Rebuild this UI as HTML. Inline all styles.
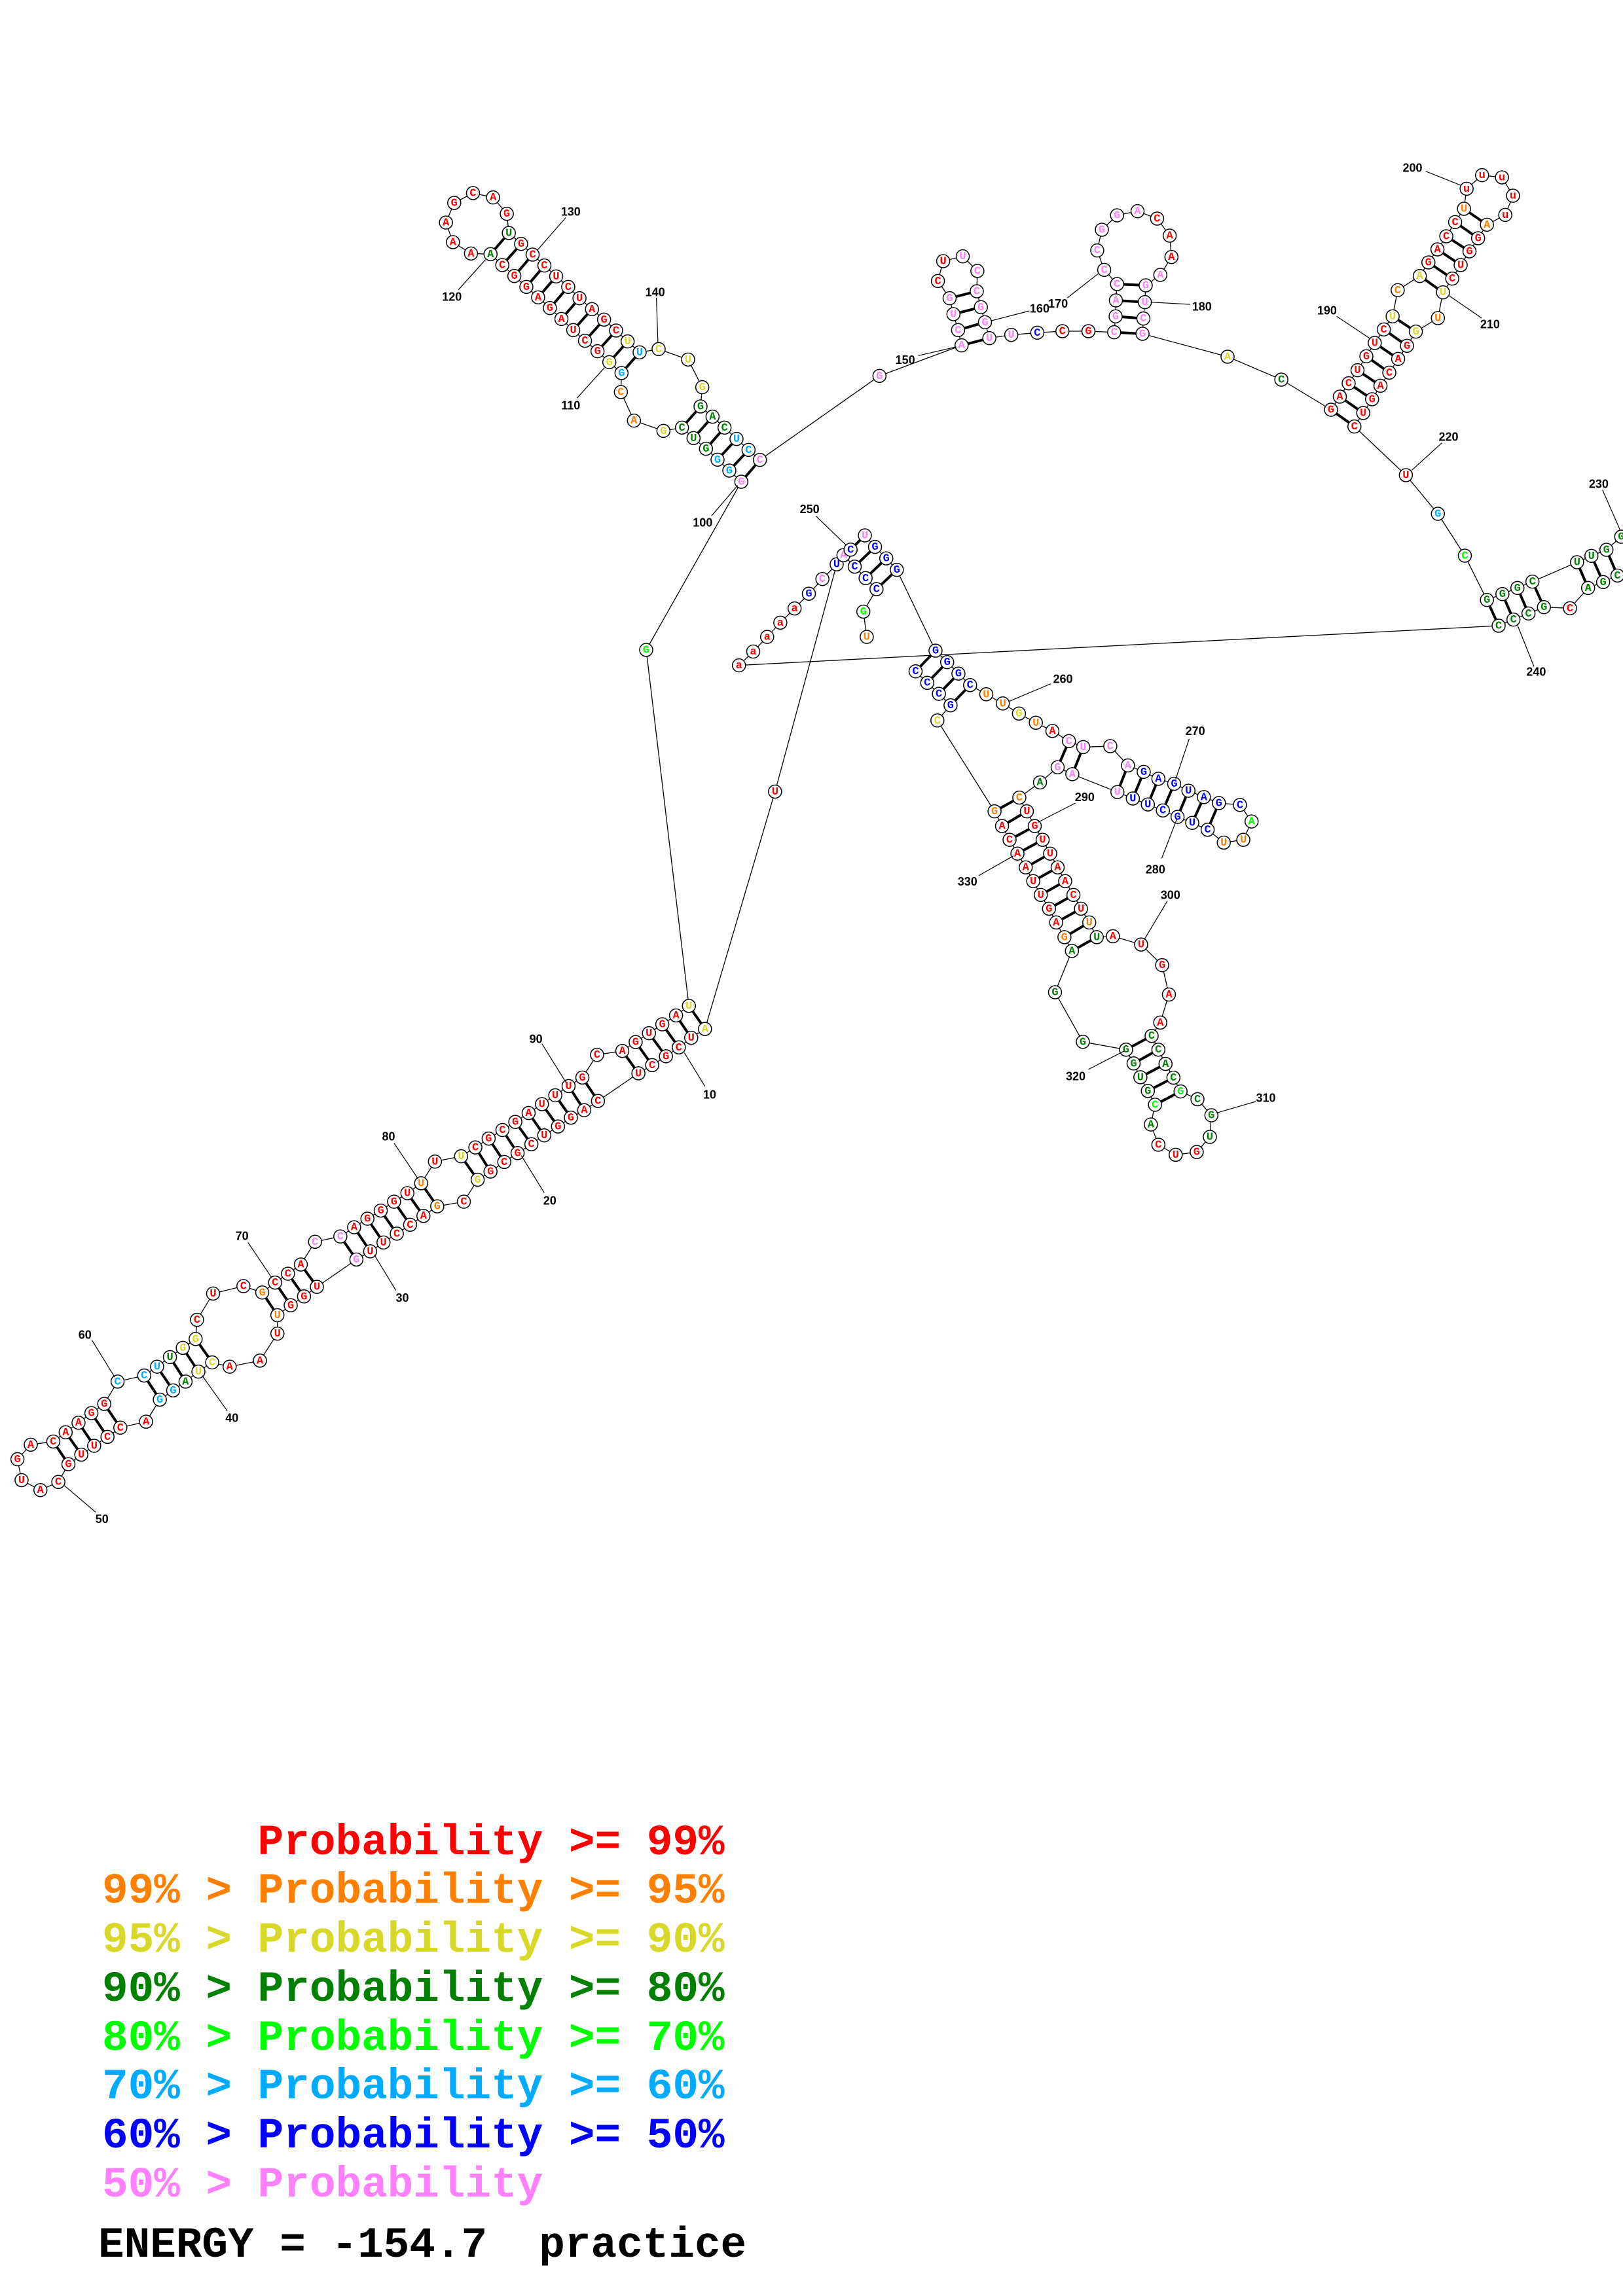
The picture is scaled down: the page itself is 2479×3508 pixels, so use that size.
<!DOCTYPE html>
<html><head><meta charset="utf-8"><style>
html,body{margin:0;padding:0;background:#fff;}
svg{display:block;}
.nt{font-family:"Liberation Mono",monospace;font-weight:bold;font-size:17px;text-anchor:middle;dominant-baseline:central;}
.lb{font-family:"Liberation Sans",sans-serif;font-weight:bold;font-size:18px;text-anchor:middle;dominant-baseline:central;fill:#000;}
.lg{font-family:"Liberation Mono",monospace;font-weight:bold;font-size:66px;white-space:pre;}
</style></head><body>
<svg id="s" xmlns="http://www.w3.org/2000/svg" width="2479" height="3508" viewBox="0 0 2479 3508">
<g id="bb"></g><g id="pr"></g><g id="nd"></g><g id="lbl"></g>
<text class="lg" x="156" y="2833" fill="#ff0000" xml:space="preserve">      Probability &gt;= 99%</text>
<text class="lg" x="156" y="2907" fill="#ff8000" xml:space="preserve">99% &gt; Probability &gt;= 95%</text>
<text class="lg" x="156" y="2982" fill="#d8d82a" xml:space="preserve">95% &gt; Probability &gt;= 90%</text>
<text class="lg" x="156" y="3057" fill="#008000" xml:space="preserve">90% &gt; Probability &gt;= 80%</text>
<text class="lg" x="156" y="3132" fill="#00ff00" xml:space="preserve">80% &gt; Probability &gt;= 70%</text>
<text class="lg" x="156" y="3206" fill="#00aaff" xml:space="preserve">70% &gt; Probability &gt;= 60%</text>
<text class="lg" x="156" y="3281" fill="#0000ff" xml:space="preserve">60% &gt; Probability &gt;= 50%</text>
<text class="lg" x="156" y="3356" fill="#ff80ff" xml:space="preserve">50% &gt; Probability</text>
<text class="lg" x="150" y="3448" fill="#000" xml:space="preserve">ENERGY = -154.7  practice</text>
</svg>
<script>
var Z={0:[0,0,1,1],1:[600,250,2.613,3],3:[0,1500,1.4255,1.845],4:[1100,750,1.742,1.4255],5:[1300,280,2.24,3],6:[1950,200,2.964,3],7:[1950,650,2.964,3],8:[900,500,3,3]};
function P(z,x,y){var q=Z[z];return [q[0]+x/q[2],q[1]+y/q[3]];}
var C={r:'#ff0000',o:'#ff8000',y:'#d8d82a',g:'#008000',l:'#00ff00',c:'#00aaff',b:'#0000ff',p:'#ff80ff'};
var S=[
[4,"U390,318o G381,263l C416,214b C387,190b C358,165b"],
['B'],
[4,"U146,655r"],
[3,"A1535,133y U1505,158r C1478,185r G1450,210r C1420,235r U1390,258r C1302,336r A1272,362r G1243,383r G1215,408r U1185,433r C1157,458r G1127,483r C1098,508r G1068,535r G1040,558y C1010,620r G952,633o A922,660r C893,685r C864,710r U835,735r U806,760r G776,783p U690,860r G662,887r G633,912r U604,940o U604,992r A566,1068r A500,1085r C462,1073y U432,1099y A404,1127g G377,1152c G348,1178c A318,1240r C262,1257r C234,1283r U205,1308r U177,1333r G149,1360r C127,1410r A88,1433r U47,1405r G38,1346r A67,1305r C116,1296r A143,1270r A171,1243r G199,1216r G227,1190r C256,1127c C314,1110c U342,1085c U370,1058g G398,1032y G426,1007y C429,953r U464,879r C530,858r G571,876o C599,848r C627,823r A655,797r C686,733p C741,718p A771,692r G800,668r G829,645r G858,620r U887,596r U917,568o U947,507r U1004,492y C1035,467r G1064,442r C1094,418r G1122,395r A1151,370r U1180,345r U1209,320r U1238,294r G1268,270r C1300,206r A1355,195r G1384,170r U1413,145r G1442,120r A1472,95r U1500,68y"],
[0,"G987,993l"],
[8,"G697,708p G642,657c G588,607c G535,557g U478,508g C425,460g G340,475y A205,428o C145,297o G148,210c G92,160y G38,110r"],
[1,"C767,812r U720,763r A673,712r G627,662r A580,613r G533,565r G485,515r C437,465r A390,415g A312,412r A240,360r A212,270r G245,180r C320,135r A400,155r G455,230r U463,318g G512,368r C558,417r C605,467r U652,517r C700,565r U745,617r A795,667r G843,715r"],
[8,"C123,15r U176,65y U231,115c C318,100y U453,148y G518,275y G510,363g A565,410g C620,460g U675,512c C730,562c C782,608p"],
[5,"G97,883p A378,743p C366,673p U350,600p G337,527p C297,448r U315,357r U382,335p C432,402p C430,495p G444,568p G458,637p U473,710p U548,695p C637,685b C723,678r G812,678r C900,683p G905,610p A906,537p C910,462p C866,397p C842,308p G858,213p G910,147p A980,128p C1047,162r A1090,240r A1096,338r A1058,420p G1008,468p U1005,545p C1000,620p G997,690p A1288,795y C1472,900g"],
[6,"G246,1278r A286,1218r C326,1157r U366,1097r G406,1033r U444,972r C485,910r U525,850y C548,730o A648,665y G687,603r A728,543r C768,483r C808,418r U848,357o u860,265r u930,203r u1020,213r u1070,297r u1035,385r A952,430o G912,492r G873,552r U833,615r C795,677r U753,740y U730,858o G630,920y G590,985r A550,1045r C510,1108r A470,1168r G432,1230r U392,1293r C352,1355r"],
[7,"U585,228r G730,405c C852,597l G952,800g G1022,773g G1090,745g C1158,716g U1360,627g U1425,598g G1493,570g G1560,510g"],
[0,"G2505,790g C2510,850g"],
[7,"C1543,688g G1478,718g A1410,745g C1328,838r G1210,833g C1140,862g C1072,890g C1005,918g"],
[4,"a50,380r a88,350r a125,318r a160,287r a198,256r G236,224b C272,192p U310,160b A328,140p C347,128b U385,97p G412,122b G442,147b G470,172b G573,348b G604,373b G634,398b C665,423b U708,443o U752,463o G795,485y U840,505o A884,523r C928,545p U966,558p C1038,556p A1085,598p G1127,612b A1166,627b G1208,638b U1246,653b A1287,667b G1327,680b C1383,684b A1414,720l U1392,760o U1340,766o C1297,738b U1256,723b G1217,710b C1178,696b U1138,683b U1098,670b U1057,656p A937,617p G898,602p A851,635g C796,668o U816,698r G837,730r U858,760r U878,790r A898,820r A918,850r C940,880r U960,910r U982,940o U1002,972g A1045,970r U1120,988r G1176,1033r A1194,1097r A1171,1158r C1148,1187g C1166,1217g A1185,1248g C1206,1278g G1225,1308l C1270,1325g G1307,1360g U1303,1407g G1268,1440r U1212,1446r C1166,1424r A1146,1380g C1157,1337l G1138,1307g U1118,1277g G1100,1247g G1080,1217g G965,1200g G891,1092g A936,1002g G916,972o A894,940r G875,910r U853,880r U833,850r A813,820r A791,790r C770,760r A750,730r G730,698o C578,500y G613,467b C582,442b C551,418b C520,393b"]
];
var PR=[
[3,"1500,68,1535,133 1472,95,1505,158 1442,120,1478,185 1413,145,1450,210 1384,170,1420,235 1355,195,1390,258 1268,270,1302,336 1238,294,1272,362 1209,320,1243,383 1180,345,1215,408 1151,370,1185,433 1122,395,1157,458 1094,418,1127,483 1064,442,1098,508 1035,467,1068,535 1004,492,1040,558 917,568,952,633 887,596,922,660 858,620,893,685 829,645,864,710 800,668,835,735 771,692,806,760 741,718,776,783 655,797,690,860 627,823,662,887 599,848,633,912 571,876,604,940 426,1007,462,1073 398,1032,432,1099 370,1058,404,1127 342,1085,377,1152 314,1110,348,1178 227,1190,262,1257 199,1216,234,1283 171,1243,205,1308 143,1270,177,1333 116,1296,149,1360"],
[1,"390,415,463,318 437,465,512,368 485,515,558,417 533,565,605,467 580,613,652,517 627,662,700,565 673,712,745,617 720,763,795,667 767,812,843,715"],
[8,"38,110,123,15 92,160,176,65 148,210,231,115 510,363,425,460 565,410,478,508 620,460,535,557 675,512,588,607 730,562,642,657 782,608,697,708"],
[5,"378,743,473,710 366,673,458,637 350,600,444,568 337,527,430,495 900,683,997,690 905,610,1000,620 906,537,1005,545 910,462,1008,468"],
[6,"246,1278,352,1355 286,1218,392,1293 326,1157,432,1230 366,1097,470,1168 406,1033,510,1108 444,972,550,1045 485,910,590,985 525,850,630,920 648,665,753,740 687,603,795,677 728,543,833,615 768,483,873,552 808,418,912,492 848,357,952,430"],
[7,"952,800,1005,918 1022,773,1072,890 1090,745,1140,862 1158,716,1210,833 1360,627,1410,745 1425,598,1478,718 1493,570,1543,688"],
[4,"347,128,385,97 358,165,412,122 387,190,442,147 416,214,470,172 520,393,573,348 551,418,604,373 582,442,634,398 613,467,665,423 928,545,898,602 966,558,937,617 1085,598,1057,656 1127,612,1098,670 1166,627,1138,683 1208,638,1178,696 1246,653,1217,710 1287,667,1256,723 1327,680,1297,738 796,668,730,698 816,698,750,730 837,730,770,760 858,760,791,790 878,790,813,820 898,820,833,850 918,850,853,880 940,880,875,910 960,910,894,940 982,940,916,972 1002,972,936,1002 1148,1187,1080,1217 1166,1217,1100,1247 1185,1248,1118,1277 1206,1278,1138,1307 1225,1308,1157,1337"]
];
var EX=[[4,310,160,146,655],[4,358,165,328,140]];
var LB=[
[3,"10",1545,318,1490,200,1535,295],[3,"20",1197,617,1135,490,1185,595],[3,"30",876,891,815,770,862,870],[3,"40",505,1230,440,1110,495,1210],[3,"50",222,1515,140,1420,208,1495],[3,"60",185,995,200,1010,250,1115],[3,"70",527,717,540,735,592,835],[3,"80",846,436,858,455,910,555],[3,"90",1167,161,1180,175,1232,283],
[8,"100",520,895,680,725,560,865],
[1,"110",710,1108,735,1075,845,935],[1,"120",236,610,262,578,370,440],[1,"130",710,220,690,248,578,395],[1,"140",1047,590,1052,615,1058,820],
[5,"150",185,810,230,790,360,750],[5,"160",645,575,610,585,480,630],[5,"170",708,552,740,525,845,415],[5,"180",1200,565,1160,555,1025,545],
[6,"190",228,823,272,850,420,950],[6,"200",615,170,675,185,835,250],[6,"210",966,887,928,858,780,755],
[7,"220",778,52,748,80,612,205],[7,"230",1458,268,1475,295,1555,480],[7,"240",1175,1130,1165,1105,1090,915],
[4,"250",238,40,255,55,335,118],[4,"260",912,410,880,420,770,458],[4,"270",1264,523,1248,540,1212,628],[4,"280",1158,825,1175,800,1215,715],[4,"290",970,667,945,680,845,722],[4,"300",1198,880,1190,893,1130,975],[4,"310",1452,1322,1425,1330,1320,1355],[4,"320",946,1275,980,1260,1075,1220],[4,"330",658,851,688,838,780,795]
];
var NS="http://www.w3.org/2000/svg";
function el(t,a,p,txt){var e=document.createElementNS(NS,t);for(var k in a)e.setAttribute(k,a[k]);if(txt)e.textContent=txt;document.getElementById(p).appendChild(e);return e;}
var nodes=[],brk=false,prev=null;
S.forEach(function(g){
 if(g[0]==='B'){brk=true;return;}
 g[1].split(' ').forEach(function(t){
  var m=t.match(/^([A-Za-z])(-?[\d.]+),(-?[\d.]+)([a-z])$/);
  var p=P(g[0],+m[2],+m[3]);
  if(prev&&!brk)el('line',{x1:prev[0],y1:prev[1],x2:p[0],y2:p[1],stroke:'#000','stroke-width':1.3},'bb');
  brk=false;prev=p;nodes.push([p,m[1],C[m[4]]]);
 });
});
EX.forEach(function(e){var a=P(e[0],e[1],e[2]),b=P(e[0],e[3],e[4]);el('line',{x1:a[0],y1:a[1],x2:b[0],y2:b[1],stroke:'#000','stroke-width':1.3},'bb');});
PR.forEach(function(g){g[1].split(' ').forEach(function(t){var v=t.split(',').map(Number);var a=P(g[0],v[0],v[1]),b=P(g[0],v[2],v[3]);el('line',{x1:a[0],y1:a[1],x2:b[0],y2:b[1],stroke:'#000','stroke-width':4},'pr');});});
nodes.forEach(function(n){el('circle',{cx:n[0][0],cy:n[0][1],r:10,fill:'#fff',stroke:'#000','stroke-width':1.5},'nd');el('text',{x:n[0][0],y:n[0][1]+1,fill:n[2],'class':'nt'},'nd',n[1]);});
LB.forEach(function(l){var t=P(l[0],l[2],l[3]),a=P(l[0],l[4],l[5]),b=P(l[0],l[6],l[7]);el('line',{x1:a[0],y1:a[1],x2:b[0],y2:b[1],stroke:'#000','stroke-width':1.2},'lbl');el('text',{x:t[0],y:t[1],'class':'lb'},'lbl',l[1]);});
</script>
</body></html>
